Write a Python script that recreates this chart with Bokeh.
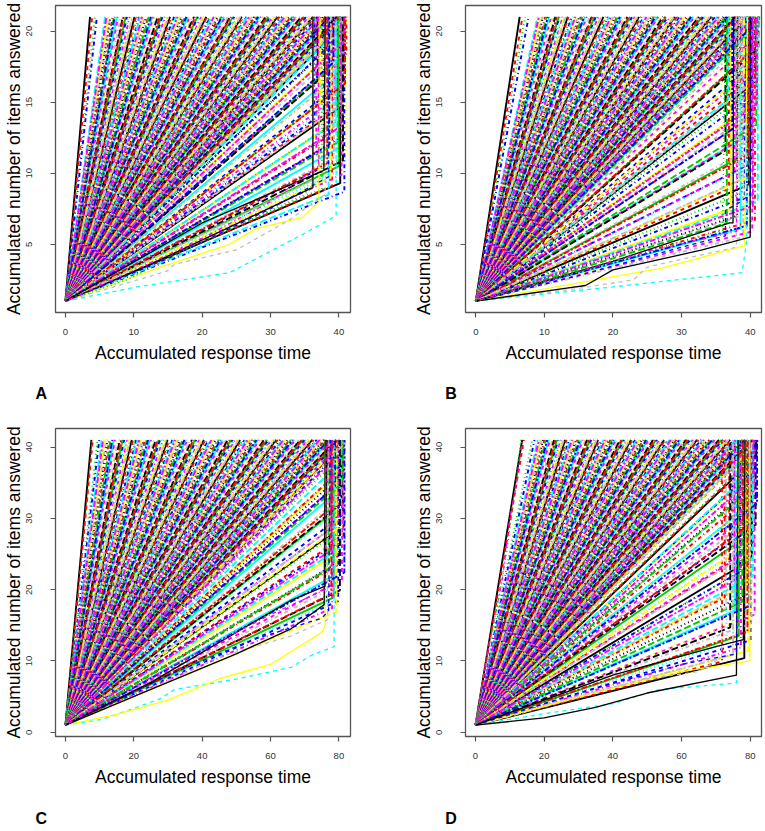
from bokeh.plotting import figure
from bokeh.layouts import column, row
from bokeh.models import ColumnDataSource, Label, Range1d, FixedTicker
from bokeh.embed import file_html
from bokeh.resources import INLINE

# ---------------- data ----------------
# Panel A: 20 items (1 -> 21), time limit ~40
A_finish = [3.6, 3.9, 4.3, 4.6, 5.8, 6.0, 6.2, 6.5, 6.6, 6.9, 7.1, 7.2, 7.5, 7.7, 7.9, 8.1, 8.4, 8.5, 8.8, 9.0, 9.2,
            9.4, 9.7, 9.8, 10.1, 10.3, 10.5, 10.8, 10.9, 11.2, 11.4, 11.6, 11.8, 12.1, 12.2, 12.5, 12.7, 12.9, 13.1,
            13.4, 13.5, 13.8, 14.0, 14.2, 14.5, 14.6, 14.9, 15.1, 15.3, 15.5, 15.8, 15.9, 16.2, 16.4, 16.6, 16.9, 17.0,
            17.3, 17.5, 17.7, 17.9, 18.2, 18.3, 18.6, 18.8, 19.0, 19.3, 19.4, 19.7, 19.9, 20.1, 20.3, 20.6, 20.7, 21.0,
            21.2, 21.4, 21.7, 21.8, 22.1, 22.3, 22.5, 22.8, 22.9, 23.2, 23.4, 23.6, 23.8, 24.1, 24.2, 24.5, 24.7, 24.9,
            25.2, 25.3, 25.6, 25.8, 26.0, 26.2, 26.5, 26.6, 26.9, 27.1, 27.3, 27.6, 27.7, 28.0, 28.2, 28.4, 28.6, 28.9,
            29.0, 29.3, 29.5, 29.7, 30.0, 30.1, 30.4, 30.6, 30.8, 31.0, 31.3, 31.4, 31.7, 31.9, 32.1, 32.4, 32.5, 32.8,
            33.0, 33.2, 33.4, 33.7, 33.8, 34.1, 34.3, 34.5, 34.8, 34.9, 35.2, 35.4, 35.6, 35.8, 36.1, 36.2, 36.5, 36.7,
            36.9, 37.2, 37.3, 37.6, 37.8, 38.0, 38.2, 38.5, 38.6, 38.9, 39.1, 39.3, 39.6, 39.7, 40.0, 40.2, 40.4, 40.6,
            40.9, 41.0, 41.2]
A_timeout_x = [40.9, 39.6, 41.0, 40.3, 38.7, 40.8, 39.9, 40.5, 37.6, 41.1, 40.1, 39.2, 40.7, 38.2, 40.4, 39.7, 36.9,
               40.9, 40.0, 38.9, 40.6, 39.4, 37.3, 40.2, 39.8, 38.4, 40.7, 36.4, 39.5, 40.3, 38.0, 39.1, 40.5, 37.8,
               39.9, 38.6, 40.1, 36.7, 41.0, 39.3, 40.6, 38.3, 40.0, 37.1, 39.7, 40.4, 38.8, 36.2, 40.2, 39.0, 37.5,
               40.8, 38.5]
A_timeout_y = [20.6, 20.3, 20.0, 19.8, 19.5, 19.3, 19.0, 18.8, 18.5, 18.3, 18.0, 17.8, 17.5, 17.3, 17.0, 16.8, 16.5,
               16.3, 16.0, 15.8, 15.5, 15.3, 15.0, 14.8, 14.5, 14.3, 14.0, 13.8, 13.6, 13.3, 13.1, 12.9, 12.6, 12.4,
               12.2, 12.0, 11.8, 11.5, 11.3, 11.1, 10.9, 10.7, 10.5, 10.3, 10.1, 9.9, 9.7, 9.5, 9.3, 9.1, 8.9, 8.7, 8.5]
A_special_x = [[0, 10.5, 24.0, 34.7, 39.6, 39.6],
               [0, 13.4, 24.0, 27.9, 34.7, 37.1, 37.1],
               [0, 8.5, 14.8, 16.0, 25.0, 32.7, 38.0, 38.0],
               [0, 12.0, 23.1, 36.2, 36.2],
               [0, 15.0, 30.0, 38.5, 38.5],
               [0, 20.0, 37.8, 38.0],
               [0, 18.0, 30.0, 37.0, 37.0],
               [0, 9.0, 20.0, 35.0, 40.0, 40.0]]
A_special_y = [[1, 2.0, 3.0, 5.7, 7.0, 21],
               [1, 3.3, 5.0, 6.1, 6.9, 8.0, 21],
               [1, 2.2, 3.1, 3.6, 4.6, 6.7, 8.5, 21],
               [1, 3.5, 6.0, 9.0, 21],
               [1, 4.0, 7.5, 9.75, 21],
               [1, 6.5, 10.2, 21],
               [1, 4.9, 8.0, 10.5, 21],
               [1, 2.5, 5.2, 8.5, 11.0, 21]]

# Panel B: 20 items (1 -> 21), time limit ~40
B_finish = [6.4, 6.8, 7.2, 7.7, 9.0, 9.2, 9.4, 9.7, 9.8, 10.1, 10.3, 10.5, 10.7, 11.0, 11.1, 11.4, 11.6, 11.8, 12.1,
            12.2, 12.5, 12.7, 12.9, 13.1, 13.4, 13.5, 13.8, 14.0, 14.2, 14.5, 14.6, 14.9, 15.1, 15.3, 15.5, 15.8, 15.9,
            16.2, 16.4, 16.6, 16.9, 17.0, 17.3, 17.5, 17.7, 17.9, 18.2, 18.3, 18.6, 18.8, 19.0, 19.3, 19.4, 19.7, 19.9,
            20.1, 20.3, 20.6, 20.7, 21.0, 21.2, 21.4, 21.7, 21.8, 22.1, 22.3, 22.5, 22.8, 22.9, 23.2, 23.4, 23.6, 23.8,
            24.1, 24.2, 24.5, 24.7, 24.9, 25.2, 25.3, 25.6, 25.8, 26.0, 26.2, 26.5, 26.6, 26.9, 27.1, 27.3, 27.6, 27.7,
            28.0, 28.2, 28.4, 28.6, 28.9, 29.0, 29.3, 29.5, 29.7, 30.0, 30.1, 30.4, 30.6, 30.8, 31.0, 31.3, 31.4, 31.7,
            31.9, 32.1, 32.4, 32.5, 32.8, 33.0, 33.2, 33.4, 33.7, 33.8, 34.1, 34.3, 34.5, 34.8, 34.9, 35.2, 35.4, 35.6,
            35.8, 36.1, 36.2, 36.5, 36.7, 36.9, 37.2, 37.3, 37.6, 37.8, 38.0, 38.2, 38.5, 38.6, 38.9, 39.1, 39.3, 39.6,
            39.7, 40.0, 40.2, 40.4, 40.6, 40.9, 41.0, 41.2, 41.4]
B_timeout_x = [41.3, 40.2, 39.8, 41.0, 40.6, 38.9, 41.2, 40.0, 39.5, 40.8, 37.9, 40.4, 39.1, 41.1, 40.7, 38.5, 39.9,
               40.3, 36.8, 41.0, 39.6, 40.5, 38.2, 39.3, 40.9, 37.4, 40.1, 39.0, 38.7, 40.6, 36.4, 39.7, 38.0, 40.2,
               39.4, 37.7, 40.0, 38.4, 39.8, 36.9, 38.8, 39.2, 41.1, 40.4, 37.2, 39.9, 38.1, 40.7, 36.6, 39.5, 38.6,
               40.3, 37.5, 39.0]
B_timeout_y = [20.6, 20.3, 20.0, 19.7, 19.4, 19.1, 18.8, 18.5, 18.2, 17.9, 17.6, 17.3, 17.0, 16.7, 16.4, 16.1, 15.8,
               15.5, 15.2, 14.9, 14.6, 14.3, 14.0, 13.7, 13.4, 13.1, 12.8, 12.5, 12.2, 11.9, 11.6, 11.3, 11.0, 10.7,
               10.4, 10.1, 9.8, 9.5, 9.2, 8.9, 8.6, 8.3, 8.0, 7.7, 7.5, 7.2, 7.0, 6.7, 6.5, 6.3, 6.1, 5.9, 5.7, 5.5]
B_special_x = [[0, 20.0, 38.8, 39.5, 39.5],
               [0, 27.0, 39.2, 39.6],
               [0, 15.0, 23.0, 25.0, 38.0, 38.0],
               [0, 13.0, 16.0, 20.0, 33.0, 40.0, 40.0],
               [0, 15.0, 30.0, 36.4, 36.4, 38.0, 40.0, 40.0],
               [0, 20.0, 37.0, 37.5, 37.6],
               [0, 25.0, 38.0, 38.2],
               [0, 22.0, 36.0, 36.4]]
B_special_y = [[1, 2.0, 3.0, 5.2, 21],
               [1, 3.3, 4.9, 21],
               [1, 1.9, 2.5, 3.4, 4.8, 21],
               [1, 1.9, 2.1, 3.2, 4.6, 5.5, 21],
               [1, 2.8, 4.8, 5.6, 7.4, 7.8, 8.5, 21],
               [1, 3.8, 6.5, 6.5, 21],
               [1, 4.5, 5.9, 21],
               [1, 4.0, 6.0, 21]]

# Panel C: 40 items (1 -> 41), time limit ~80
C_finish = [7.6, 8.0, 9.4, 9.9, 10.6, 11.0, 11.5, 11.9, 12.3, 12.8, 13.2, 13.7, 14.1, 14.5, 15.0, 15.4, 15.9, 16.3,
            16.7, 17.2, 17.6, 18.1, 18.5, 18.9, 19.4, 19.8, 20.3, 20.7, 21.1, 21.6, 22.0, 22.5, 22.9, 23.3, 23.8, 24.2,
            24.7, 25.1, 25.5, 26.0, 26.4, 26.9, 27.3, 27.7, 28.2, 28.6, 29.1, 29.5, 29.9, 30.4, 30.8, 31.3, 31.7, 32.1,
            32.6, 33.0, 33.5, 33.9, 34.3, 34.8, 35.2, 35.7, 36.1, 36.5, 37.0, 37.4, 37.9, 38.3, 38.7, 39.2, 39.6, 40.1,
            40.5, 40.9, 41.4, 41.8, 42.3, 42.7, 43.1, 43.6, 44.0, 44.5, 44.9, 45.3, 45.8, 46.2, 46.7, 47.1, 47.5, 48.0,
            48.4, 48.9, 49.3, 49.7, 50.2, 50.6, 51.1, 51.5, 51.9, 52.4, 52.8, 53.3, 53.7, 54.1, 54.6, 55.0, 55.5, 55.9,
            56.3, 56.8, 57.2, 57.7, 58.1, 58.5, 59.0, 59.4, 59.9, 60.3, 60.7, 61.2, 61.6, 62.1, 62.5, 62.9, 63.4, 63.8,
            64.3, 64.7, 65.1, 65.6, 66.0, 66.5, 66.9, 67.3, 67.8, 68.2, 68.7, 69.1, 69.5, 70.0, 70.4, 70.9, 71.3, 71.7,
            72.2, 72.6, 73.1, 73.5, 73.9, 74.4, 74.8, 75.3, 75.7, 76.1, 76.6, 77.0, 77.5, 77.9, 78.3, 78.8, 79.2, 79.7,
            80.1, 80.5, 81.0, 81.4, 81.8]
C_timeout_x = [81.7, 80.2, 79.1, 81.2, 78.4, 80.8, 76.9, 81.5, 79.7, 80.5, 77.6, 81.0, 78.9, 80.1, 76.3, 81.4, 79.4,
               80.7, 77.9, 78.6, 81.1, 76.6, 79.9, 80.4, 77.2, 78.1, 81.3, 76.0, 79.2, 80.6, 77.4, 78.8, 81.8, 80.0,
               79.5, 77.0, 81.6, 78.3, 80.9, 76.5, 79.0, 80.3, 77.8, 78.5, 79.8, 76.2, 78.0, 79.3]
C_timeout_y = [40.5, 40.0, 39.5, 39.0, 38.5, 38.0, 37.5, 37.0, 36.5, 36.0, 35.5, 35.0, 34.5, 34.0, 33.5, 33.0, 32.5,
               32.0, 31.5, 31.0, 30.5, 30.0, 29.4, 28.9, 28.4, 27.9, 27.4, 26.9, 26.4, 25.9, 25.4, 24.9, 24.4, 23.9,
               23.4, 22.9, 22.4, 21.9, 21.4, 20.9, 20.4, 19.9, 19.4, 18.9, 18.4, 17.9, 17.4, 16.9]
C_special_x = [[0, 10.8, 27.3, 32.0, 49.5, 66.0, 72.4, 78.6, 78.6],
               [0, 15.0, 30.0, 45.0, 60.0, 75.0, 76.0, 76.0],
               [0, 20.0, 44.7, 66.0, 76.7, 76.7],
               [0, 25.0, 50.0, 66.0, 75.7, 76.0],
               [0, 30.0, 55.0, 75.0, 77.0, 77.5],
               [0, 25.0, 50.0, 66.0, 76.0, 76.5],
               [0, 30.0, 60.0, 76.0, 76.3],
               [0, 2.0, 3.5, 5.0, 6.5, 7.8]]
C_special_y = [[1, 1.8, 4.6, 6.0, 7.4, 9.1, 10.9, 12.0, 41],
               [1, 2.5, 4.5, 7.5, 9.5, 14.0, 15.0, 41],
               [1, 5.0, 10.5, 13.5, 15.8, 41],
               [1, 6.0, 11.0, 14.5, 17.9, 41],
               [1, 8.0, 13.0, 16.0, 17.0, 41],
               [1, 7.0, 14.0, 18.5, 20.5, 41],
               [1, 9.0, 16.5, 20.0, 41],
               [1, 10.0, 18.0, 25.0, 33.0, 41]]

# Panel D: 40 items (1 -> 41), time limit ~80
D_finish = [13.6, 14.1, 16.5, 17.2, 18.1, 18.5, 18.9, 19.3, 19.7, 20.1, 20.5, 20.9, 21.3, 21.7, 22.1, 22.5, 22.9, 23.3,
            23.7, 24.1, 24.5, 24.9, 25.3, 25.7, 26.1, 26.5, 26.9, 27.3, 27.7, 28.1, 28.5, 28.9, 29.3, 29.7, 30.1, 30.5,
            30.9, 31.3, 31.7, 32.1, 32.5, 32.9, 33.3, 33.7, 34.1, 34.5, 34.9, 35.3, 35.7, 36.1, 36.5, 36.9, 37.3, 37.7,
            38.1, 38.5, 38.9, 39.3, 39.7, 40.1, 40.5, 40.9, 41.3, 41.7, 42.1, 42.5, 42.9, 43.3, 43.7, 44.1, 44.5, 44.9,
            45.3, 45.7, 46.1, 46.5, 46.9, 47.3, 47.7, 48.1, 48.5, 48.9, 49.3, 49.7, 50.1, 50.5, 50.9, 51.3, 51.7, 52.1,
            52.5, 52.9, 53.3, 53.7, 54.1, 54.5, 54.9, 55.3, 55.7, 56.1, 56.5, 56.9, 57.3, 57.7, 58.1, 58.5, 58.9, 59.3,
            59.7, 60.1, 60.5, 60.9, 61.3, 61.7, 62.1, 62.5, 62.9, 63.3, 63.7, 64.1, 64.5, 64.9, 65.3, 65.7, 66.1, 66.5,
            66.9, 67.3, 67.7, 68.1, 68.5, 68.9, 69.3, 69.7, 70.1, 70.5, 70.9, 71.3, 71.7, 72.1, 72.5, 72.9, 73.3, 73.7,
            74.1, 74.5, 74.9, 75.3, 75.7, 76.1, 76.5, 76.9, 77.3, 77.7, 78.1, 78.5, 78.9, 79.3, 79.7, 80.1, 80.5, 80.9,
            81.3, 81.7, 82.1]
D_timeout_x = [82.1, 80.6, 79.3, 81.8, 80.0, 78.2, 81.4, 79.7, 80.9, 77.5, 81.1, 79.0, 80.3, 76.8, 82.0, 78.7, 80.7,
               75.9, 79.5, 81.6, 77.9, 80.2, 74.8, 79.9, 81.0, 76.4, 78.5, 80.5, 73.9, 79.1, 77.1, 80.8, 75.3, 78.9,
               76.0, 79.6, 72.6, 77.7, 79.8, 75.6, 81.3, 78.0, 80.4, 74.2, 79.2, 76.7, 80.1, 73.1, 77.3, 79.4, 75.0,
               78.3, 71.8]
D_timeout_y = [40.5, 39.9, 39.3, 38.7, 38.1, 37.5, 36.9, 36.3, 35.7, 35.1, 34.5, 33.9, 33.3, 32.7, 32.1, 31.5, 30.9,
               30.3, 29.7, 29.1, 28.5, 27.9, 27.3, 26.7, 26.1, 25.5, 24.9, 24.3, 23.7, 23.1, 22.5, 21.9, 21.3, 20.7,
               20.1, 19.5, 18.9, 18.3, 17.7, 17.1, 16.5, 15.9, 15.3, 14.7, 14.1, 13.5, 12.9, 12.4, 11.9, 11.4, 10.9,
               10.4, 9.9]
D_special_x = [[0, 20.0, 40.0, 53.7, 76.0, 76.0],
               [0, 30.0, 60.0, 79.9, 79.9],
               [0, 25.0, 50.0, 65.0, 71.7, 71.7, 73.0, 73.0],
               [0, 20.0, 35.0, 50.0, 76.0, 76.5],
               [0, 30.0, 60.0, 76.0, 76.4],
               [0, 40.0, 70.0, 78.0, 78.5],
               [0, 3.0, 6.0, 8.0, 10.0, 12.0, 13.6],
               [0, 3.5, 6.5, 9.0, 11.0, 13.2]]
D_special_y = [[1, 2.6, 4.0, 6.0, 6.9, 41],
               [1, 5.0, 8.5, 10.0, 41],
               [1, 4.5, 7.5, 8.5, 10.5, 15.0, 18.0, 41],
               [1, 2.0, 3.5, 5.5, 8.0, 41],
               [1, 5.5, 9.5, 11.0, 41],
               [1, 8.0, 12.0, 13.0, 41],
               [1, 10.0, 17.0, 22.0, 30.0, 35.0, 41],
               [1, 11.0, 18.0, 25.0, 32.0, 41]]

X_TICKS_20 = [0, 10, 20, 30, 40]
Y_TICKS_20 = [5, 10, 15, 20]
X_TICKS_40 = [0, 20, 40, 60, 80]
Y_TICKS_40 = [0, 10, 20, 30, 40]
PANEL_LETTERS = ["A", "B", "C", "D"]

# ---------------- styles ----------------
PALETTE = ["#000000", "#FF0000", "#00CD00", "#0000FF", "#00FFFF", "#FF00FF", "#FFFF00", "#BEBEBE"]
DASHES = ["solid", "4 4", "1 3", "1 3 4 3", "7 3", "2 2 6 2"]
SPECIAL_STYLE = [(4, 1), (6, 0), (7, 1), (0, 0), (3, 1), (0, 0), (5, 3), (2, 2)]
FONT = "Liberation Sans"
FRAME_COL = "#555555"


def make_panel(finish, to_x, to_y, sp_x, sp_y, y_top, x_range, y_range, xticks, yticks,
               fw, fh, mb_left, mb_right, mb_top, mb_bottom):
    p = figure(frame_width=fw, frame_height=fh,
               min_border_left=mb_left, min_border_right=mb_right,
               min_border_top=mb_top, min_border_bottom=mb_bottom,
               x_range=Range1d(*x_range), y_range=Range1d(*y_range),
               output_backend="svg", toolbar_location=None, tools="")
    p.grid.visible = False
    p.outline_line_color = FRAME_COL
    p.outline_line_width = 1.3
    p.background_fill_color = "white"
    p.border_fill_color = "white"

    xs, ys = [], []
    for t in finish:
        xs.append([0, t]); ys.append([1, y_top])
    for tx, ty in zip(to_x, to_y):
        xs.append([0, tx, tx]); ys.append([1, ty, y_top])
    groups = {d: {"xs": [], "ys": [], "c": []} for d in range(len(DASHES))}
    for i, (lx, ly) in enumerate(zip(xs, ys)):
        g = groups[i % len(DASHES)]
        g["xs"].append(lx); g["ys"].append(ly); g["c"].append(PALETTE[i % len(PALETTE)])
    for d, g in groups.items():
        src = ColumnDataSource(dict(xs=g["xs"], ys=g["ys"], c=g["c"]))
        p.multi_line("xs", "ys", source=src, line_color="c", line_width=1.9, line_dash=DASHES[d])
    for (lx, ly), (ci, di) in zip(zip(sp_x, sp_y), SPECIAL_STYLE):
        p.line(lx, ly, line_color=PALETTE[ci], line_dash=DASHES[di], line_width=1.3)

    for ax in (p.xaxis[0], p.yaxis[0]):
        ax.axis_line_color = None
        ax.major_tick_line_color = FRAME_COL
        ax.major_tick_line_width = 1.2
        ax.major_tick_in = 0
        ax.major_tick_out = 5
        ax.minor_tick_line_color = None
        ax.major_label_text_font = FONT
        ax.major_label_text_font_size = "9.5px"
        ax.major_label_text_color = "#333333"
        ax.axis_label_text_font = FONT
        ax.axis_label_text_font_size = "17.5px"
        ax.axis_label_text_font_style = "normal"
        ax.axis_label_text_color = "black"
    p.xaxis.ticker = FixedTicker(ticks=xticks, minor_ticks=[])
    p.yaxis.ticker = FixedTicker(ticks=yticks, minor_ticks=[])
    p.xaxis.axis_label = "Accumulated response time"
    p.yaxis.axis_label = "Accumulated number of items answered"
    p.xaxis.major_label_standoff = 11
    p.xaxis.axis_label_standoff = 5
    p.yaxis.major_label_standoff = 18
    p.yaxis.axis_label_standoff = 0
    p.yaxis.major_label_orientation = "vertical"
    return p


def letter_strip(letter, w, h, cx, cy):
    s = figure(width=w, height=h, x_range=Range1d(0, w), y_range=Range1d(0, h),
               min_border_left=0, min_border_right=0, min_border_top=0, min_border_bottom=0,
               x_axis_location=None, y_axis_location=None,
               output_backend="svg", toolbar_location=None, tools="")
    s.grid.visible = False
    s.outline_line_color = None
    s.background_fill_color = "white"
    s.border_fill_color = "white"
    s.add_layout(Label(x=cx, y=cy, text=letter, text_font=FONT, text_font_size="16px",
                       text_font_style="bold", text_align="center", text_baseline="middle",
                       text_color="black"))
    return s


pA = make_panel(A_finish, A_timeout_x, A_timeout_y, A_special_x, A_special_y, 21,
                (-1.45, 41.7), (0.2, 21.8), X_TICKS_20, Y_TICKS_20, 295, 307, 55, 60, 5, 57)
pB = make_panel(B_finish, B_timeout_x, B_timeout_y, B_special_x, B_special_y, 21,
                (-1.5, 41.65), (0.2, 21.8), X_TICKS_20, Y_TICKS_20, 296, 307, 55, 3, 5, 57)
pC = make_panel(C_finish, C_timeout_x, C_timeout_y, C_special_x, C_special_y, 41,
                (-2.9, 83.4), (-0.6, 42.6), X_TICKS_40, Y_TICKS_40, 295, 308, 55, 60, 3, 57)
pD = make_panel(D_finish, D_timeout_x, D_timeout_y, D_special_x, D_special_y, 41,
                (-2.9, 83.3), (-0.6, 42.6), X_TICKS_40, Y_TICKS_40, 296, 308, 55, 3, 3, 57)

lA = letter_strip(PANEL_LETTERS[0], 410, 56, 40.8, 31.7)
lB = letter_strip(PANEL_LETTERS[1], 354, 56, 40.5, 31.7)
lC = letter_strip(PANEL_LETTERS[2], 410, 37, 40.8, 12.5)
lD = letter_strip(PANEL_LETTERS[3], 354, 37, 40.5, 12.5)

layout = column(row(pA, pB), row(lA, lB), row(pC, pD), row(lC, lD))
open("out.html", "w").write(file_html(layout, INLINE))
